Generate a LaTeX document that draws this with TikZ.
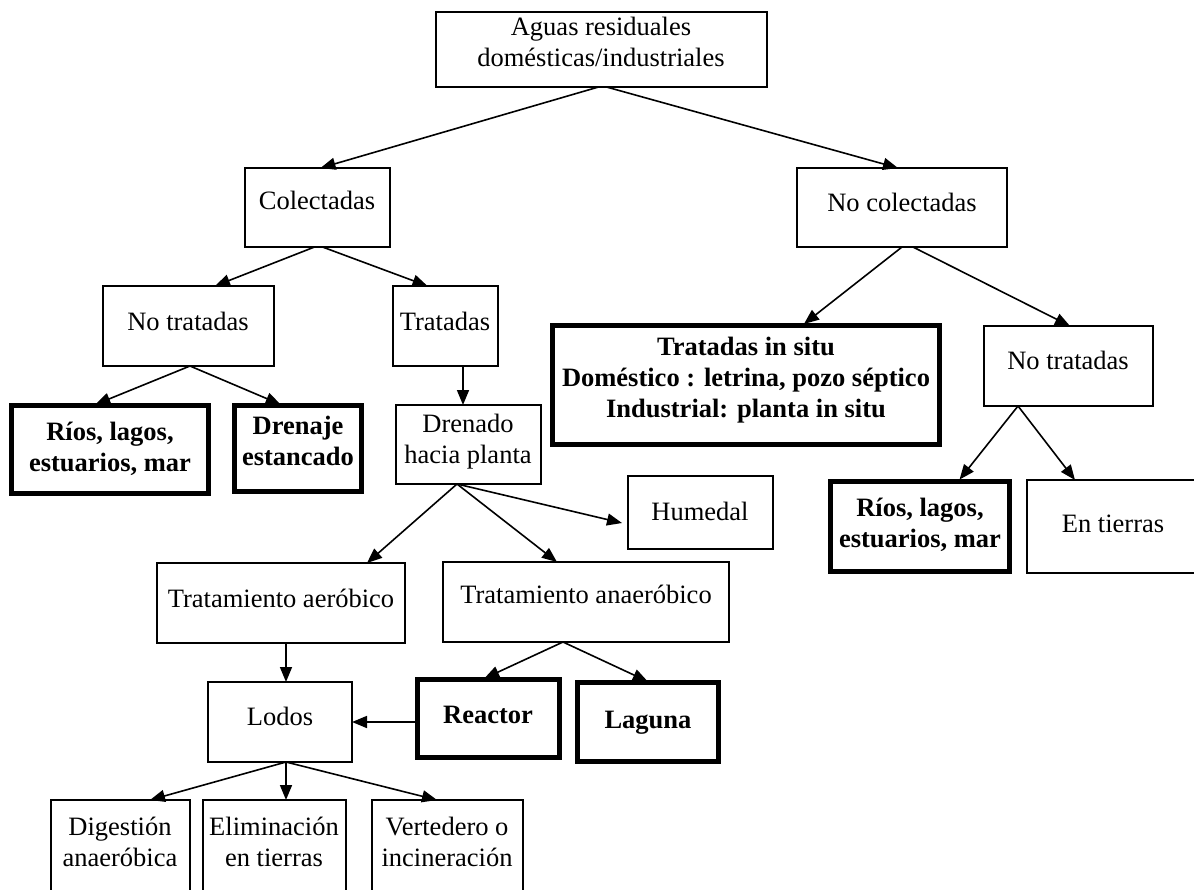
\documentclass[tikz,border=0pt]{standalone}
\usepackage{fontspec}
\setmainfont{Liberation Serif}
\usetikzlibrary{arrows.meta,calc}
\newcommand\drawbox[6]{\node[#1, minimum width={#4-#2}, minimum height={#5-#3}] (#6) at ({(#2+#4)/2},{(#3+#5)/2}) {};}
\begin{document}
\begin{tikzpicture}[x=1pt,y=-1pt,
  box/.style={draw, line width=1.4pt, inner sep=0pt, outer sep=0pt},
  bbox/.style={draw, line width=5pt, inner sep=0pt, outer sep=0pt},
  txt/.style={anchor=base, align=center, inner sep=0pt, font=\fontsize{26.5}{31}\selectfont},
  btxt/.style={anchor=base, align=center, inner sep=0pt, font=\fontsize{26.5}{31}\selectfont\bfseries},
  arr/.style={line width=1.6pt, -{Triangle[length=15pt,width=12pt]}},
  barr/.style={arr, shorten >=2.5pt},
]
\useasboundingbox (0,0) rectangle (1194,889);
\clip (0,0) rectangle (1194,889);
% thin boxes
\drawbox{box}{436}{12}{767}{87}{top}
\drawbox{box}{245}{168}{390}{247}{col}
\drawbox{box}{797}{168}{1007}{247}{ncol}
\drawbox{box}{103}{286}{274}{366}{nt1}
\drawbox{box}{393}{286}{498}{366}{trat}
\drawbox{box}{396}{405}{541}{484}{dren}
\drawbox{box}{984}{326}{1153}{406}{ntr}
\drawbox{box}{628}{476}{773}{549}{hum}
\drawbox{box}{157}{563}{405}{643}{taer}
\drawbox{box}{443}{562}{729}{642}{tana}
\drawbox{box}{208}{682}{352}{762}{lodos}
\drawbox{box}{51}{800}{190}{900}{dig}
\drawbox{box}{203}{800}{346}{900}{elim}
\drawbox{box}{372}{800}{523}{900}{vert}
\drawbox{box}{1027}{480}{1200}{573}{entier}
% thick boxes
\drawbox{bbox}{11.5}{405.5}{208.5}{493.5}{rios1}
\drawbox{bbox}{234.5}{405.5}{361.5}{491.5}{drenaje}
\drawbox{bbox}{552.5}{325.5}{939.5}{444.5}{insitu}
\drawbox{bbox}{830.5}{481.5}{1009.5}{571.5}{rios2}
\drawbox{bbox}{417.5}{679.5}{559.5}{757.5}{reactor}
\drawbox{bbox}{577.5}{682.5}{718.5}{761.5}{laguna}
% texts (anchor = baseline of the last line)
\node[txt] (t-top) at (601,66) {Aguas residuales\\domésticas/industriales};
\node[txt] (t-col) at (317,209) {Colectadas};
\node[txt] (t-ncol) at (902,211) {No colectadas};
\node[txt] (t-nt1) at (188,330) {No tratadas};
\node[txt] (t-trat) at (445,330) {Tratadas};
\node[btxt] (t-rios1) at (110,471) {Ríos, lagos,\\estuarios, mar};
\node[btxt] (t-drenaje) at (298,465) {Drenaje\\estancado};
\node[txt] (t-dren) at (468,463) {Drenado\\hacia planta};
\node[btxt] (t-insitu) at (746,417) {Tratadas in situ\\Doméstico : letrina, pozo séptico\\Industrial: planta in situ};
\node[txt] (t-ntr) at (1068,369) {No tratadas};
\node[txt] (t-hum) at (700,520) {Humedal};
\node[btxt] (t-rios2) at (920,547) {Ríos, lagos,\\estuarios, mar};
\node[txt] (t-entier) at (1113,532) {En tierras};
\node[txt] (t-taer) at (281,607) {Tratamiento aeróbico};
\node[txt] (t-tana) at (586,603) {Tratamiento anaeróbico};
\node[txt] (t-lodos) at (280,725) {Lodos};
\node[btxt] (t-reactor) at (488,723) {Reactor};
\node[btxt] (t-laguna) at (648,728) {Laguna};
\node[txt] (t-dig) at (120,866) {Digestión\\anaeróbica};
\node[txt] (t-elim) at (274,866) {Eliminación\\en tierras};
\node[txt] (t-vert) at (447,866) {Vertedero o\\incineración};
% connectors
\draw[arr] ([xshift=-3pt]top.south) -- ([xshift=3pt]col.north);
\draw[arr] ([xshift=5pt]top.south) -- ([xshift=-4pt]ncol.north);
\draw[arr] ([xshift=-3pt]col.south) -- ([xshift=26.5pt]nt1.north);
\draw[arr] ([xshift=5pt]col.south) -- ([xshift=-18pt]trat.north);
\draw[barr] ([xshift=1.5pt]nt1.south) -- ([xshift=-17pt]rios1.north);
\draw[barr] ([xshift=1.5pt]nt1.south) -- ([xshift=-15pt]drenaje.north);
\draw[arr] ([xshift=17.5pt]trat.south) -- ([xshift=17.5pt]trat.south |- dren.north);
\draw[barr] (ncol.south) -- ([xshift=56pt]insitu.north);
\draw[arr] ([xshift=11pt]ncol.south) -- ([xshift=1.5pt]ntr.north);
\draw[barr] ([xshift=-50.5pt]ntr.south) -- ([xshift=38pt]rios2.north);
\draw[arr] ([xshift=-50.5pt]ntr.south) -- ([xshift=-38.5pt]entier.north);
\draw[arr] ([xshift=-11.5pt]dren.south) -- ([xshift=86pt]taer.north);
\draw[arr] ([xshift=-11.5pt]dren.south) -- ([xshift=-29pt]tana.north);
\draw[arr] ([xshift=-11.5pt]dren.south) -- ([xshift=-6pt,yshift=-10.5pt]hum.west);
\draw[arr] ([xshift=5pt]taer.south) -- ([xshift=5pt]taer.south |- lodos.north);
\draw[barr] ([xshift=-23pt]tana.south) -- ([xshift=-6.5pt]reactor.north);
\draw[barr] ([xshift=-23pt]tana.south) -- ([xshift=2pt]laguna.north);
\draw[arr] ([xshift=-2.5pt,yshift=-3.5pt]reactor.west) -- ([yshift=-3.5pt]reactor.west -| lodos.east);
\draw[arr] ([xshift=6pt]lodos.south) -- ([xshift=29.5pt]dig.north);
\draw[arr] ([xshift=6pt]lodos.south) -- ([xshift=6pt]lodos.south |- elim.north);
\draw[arr] ([xshift=6pt]lodos.south) -- ([xshift=-10.5pt]vert.north);
\end{tikzpicture}
\end{document}
